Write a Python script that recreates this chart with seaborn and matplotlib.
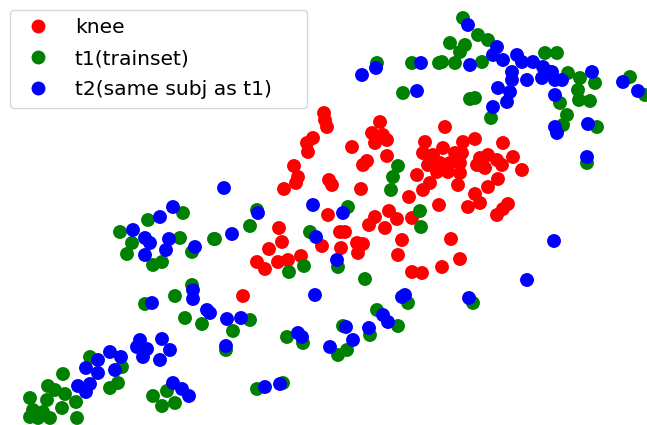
import matplotlib
matplotlib.use("Agg")
import matplotlib.pyplot as plt
import seaborn as sns
import pandas as pd

# 2-D embedding coordinates for each group (x, y)
knee_x = [324, 325, 327, 313, 307, 308, 352, 380, 372, 383, 375, 387, 387, 367, 363,
          294, 298, 296, 284, 329, 332, 361, 409, 417, 423, 430, 439, 389, 397, 375,
          369, 385, 412, 328, 279, 282, 340, 345, 322, 341, 357, 363, 358, 402, 398,
          301, 288, 278, 269, 257, 265, 412, 422, 442, 460, 451, 243, 445, 425, 463,
          475, 503, 513, 522, 423, 433, 443, 455, 462, 428, 440, 450, 460, 437, 448,
          460, 480, 488, 497, 477, 485, 502, 498, 488, 458, 475, 480, 468, 508, 503,
          497]
knee_y = [113, 120, 127, 138, 143, 152, 147, 122, 133, 135, 143, 140, 156, 161, 165,
          166, 177, 183, 189, 180, 185, 189, 197, 175, 190, 183, 205, 211, 219, 217,
          225, 228, 218, 215, 228, 242, 232, 232, 246, 248, 243, 244, 253, 240, 255,
          256, 260, 262, 249, 262, 269, 272, 273, 267, 259, 239, 296, 127, 142, 142,
          139, 143, 157, 170, 153, 155, 148, 153, 153, 165, 163, 163, 163, 172, 172,
          173, 158, 155, 160, 165, 168, 165, 179, 187, 185, 194, 203, 207, 204, 209,
          215]

t1_x = [183, 148, 120, 132, 127, 153, 162, 180, 192, 214, 192, 175, 145, 185, 202,
        90, 122, 63, 48, 55, 65, 47, 30, 76, 62, 33, 43, 30, 38, 50,
        77, 110, 118, 153, 167, 162, 175,
        257, 250, 215, 310, 348, 391, 338, 304, 289, 365, 233, 250, 226, 287,
        303, 343, 377, 398, 408, 370, 338, 347, 257, 283,
        420, 421, 473, 398, 393,
        377, 412, 439, 450, 403, 463, 478, 488, 465, 460, 442, 455, 482, 470,
        475, 491, 545, 557, 568, 580, 595, 578, 579, 590, 560, 567, 563, 597,
        630, 645, 587]
t1_y = [213, 220, 232, 243, 254, 265, 262, 238, 252, 239, 285, 296, 304, 318, 324,
        357, 367, 374, 386, 390, 394, 400, 398, 402, 408, 410, 412, 417, 418, 418,
        418, 388, 383, 396, 391, 406, 403,
        210, 226, 239, 232, 207, 190, 267, 266, 272, 279, 331, 320, 350, 337,
        343, 326, 310, 326, 303, 335, 355, 350, 389, 383,
        211, 227, 303, 166, 177,
        63, 63, 63, 43, 93, 18, 35, 40, 45, 52, 62, 63, 62, 99,
        98, 118, 53, 53, 73, 78, 83, 90, 100, 101, 103, 115, 125, 127,
        77, 95, 163]

t2_x = [224, 173, 160, 133, 145, 150, 169, 166, 145, 195, 152, 193, 193, 207, 210,
        140, 137, 147, 143, 162, 170, 160, 110, 121, 98, 86, 98, 115, 78, 90,
        86, 173, 182, 189,
        258, 232, 313, 343, 316, 337, 315, 227, 241, 226, 298, 302, 346, 353,
        330, 369, 383, 388, 402, 405, 265, 280,
        554, 527, 469,
        362, 376, 421, 417,
        468, 470, 497, 493, 503, 517, 522, 533, 543, 552, 562, 512, 512, 527,
        542, 555, 592, 623, 638, 555, 498, 510, 507, 493, 555, 557, 588, 587,
        545]
t2_y = [188, 207, 217, 230, 238, 243, 239, 250, 255, 247, 303, 290, 299, 310, 313,
        340, 347, 349, 357, 339, 350, 360, 352, 357, 360, 368, 373, 370, 386, 384,
        392, 383, 389, 396,
        213, 234, 205, 213, 237, 260, 295, 319, 318, 346, 333, 337, 327, 340,
        347, 328, 315, 322, 297, 295, 387, 384,
        241, 280, 298,
        75, 68, 63, 91,
        25, 65, 47, 55, 60, 55, 62, 62, 67, 72, 80, 72, 80, 80,
        78, 80, 72, 82, 91, 95, 88, 92, 102, 107, 127, 133, 124, 157,
        70]

groups = ["knee", "t1(trainset)", "t2(same subj as t1)"]
colors = ["red", "green", "blue"]

H = 425
frames = []
for name, xs, ys in [(groups[0], knee_x, knee_y),
                     (groups[1], t1_x, t1_y),
                     (groups[2], t2_x, t2_y)]:
    frames.append(pd.DataFrame({"x": xs, "y": [H - v for v in ys], "group": name}))
df = pd.concat(frames, ignore_index=True)

fig = plt.figure(figsize=(6.47, 4.25), dpi=100)
ax = fig.add_axes([0, 0, 1, 1])

sns.scatterplot(data=df, x="x", y="y", hue="group", hue_order=groups,
                palette=dict(zip(groups, colors)), s=100, linewidth=0,
                alpha=1, ax=ax)

ax.set_xlim(0, 647)
ax.set_ylim(0, 425)
ax.axis("off")

handles, labels = ax.get_legend_handles_labels()
ax.legend(handles, labels, loc="upper left", fontsize=14.6,
          bbox_to_anchor=(10 / 647, 0.0, 297 / 647, 415 / 425),
          mode="expand", borderaxespad=0.0, handletextpad=0.8,
          labelspacing=0.6)

fig.savefig("out.png", dpi=100)
